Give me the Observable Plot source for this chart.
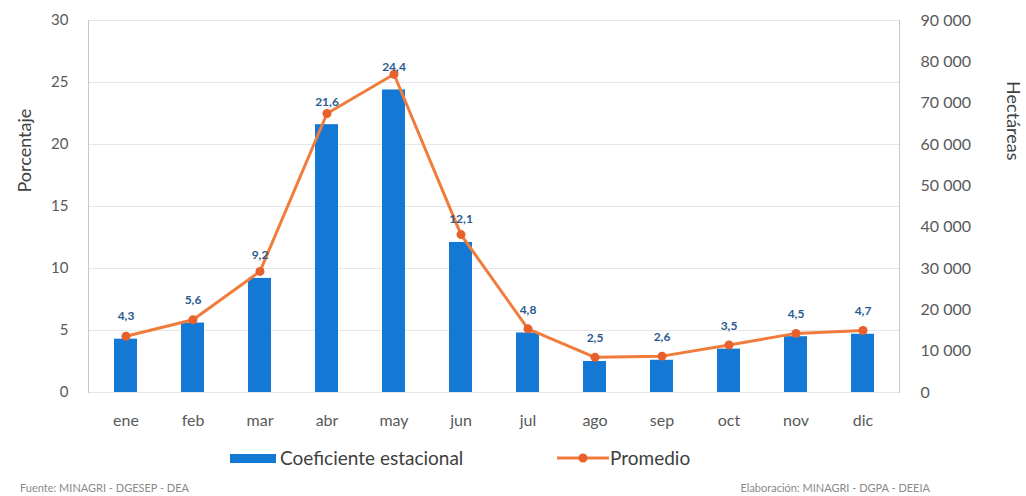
<!DOCTYPE html>
<html><head><meta charset="utf-8">
<script src="https://cdn.jsdelivr.net/npm/d3@7"></script>
<script src="https://cdn.jsdelivr.net/npm/@observablehq/plot@0.6"></script>
<style>
body{margin:0;background:#fff;font-family:Lato,"Open Sans",sans-serif;}
#wrap{position:relative;width:1026px;height:496px;overflow:hidden;}
.lg{position:absolute;font-size:19px;color:#404040;line-height:20px;white-space:nowrap;}
.ft{position:absolute;font-size:11px;color:#8a8a8a;white-space:nowrap;line-height:14px;}
</style></head><body><div id="wrap"><div id="chart"></div>
<div class="lg" style="left:230px;top:448px;display:flex;align-items:center;"><span style="display:inline-block;width:46px;height:9px;background:#1479d4;margin-right:4px;"></span><span id="lg1"></span></div>
<div class="lg" style="left:557px;top:448px;display:flex;align-items:center;"><svg width="52" height="12" style="margin-right:1px"><line x1="0" y1="6" x2="52" y2="6" stroke="#f07c3c" stroke-width="3"/><circle cx="26" cy="6" r="4.5" fill="#e8602c"/></svg><span id="lg2"></span></div>
<div class="ft" id="ft1" style="left:20px;top:481px;"></div>
<div class="ft" id="ft2" style="right:96px;top:481px;"></div>
</div>
<script>
const meses = ["ene","feb","mar","abr","may","jun","jul","ago","sep","oct","nov","dic"];
const coeficiente = [4.3,5.6,9.2,21.6,24.4,12.1,4.8,2.5,2.6,3.5,4.5,4.7];
const promedio = [13600,17600,29300,67500,77000,38200,15400,8500,8800,11500,14300,15000];
const ticksPct = [0,5,10,15,20,25,30];
const ticksHa = [0,10000,20000,30000,40000,50000,60000,70000,80000,90000];
const serieBarras = "Coeficiente estacional";
const serieLinea = "Promedio";
const ejeIzq = "Porcentaje";
const ejeDer = "Hectáreas";
const fuente = "Fuente: MINAGRI - DGESEP - DEA";
const elaboracion = "Elaboración: MINAGRI - DGPA - DEEIA";

document.getElementById("lg1").textContent = serieBarras;
document.getElementById("lg2").textContent = serieLinea;
document.getElementById("ft1").textContent = fuente;
document.getElementById("ft2").textContent = elaboracion;

const data = meses.map((m,i)=>({mes:m, coef:coeficiente[i], ha:promedio[i]}));
const y2 = d3.scaleLinear().domain([0,90000]).range([0,30]);
const loc = d3.formatLocale({decimal:",", thousands:" ", grouping:[3], currency:["",""]});
const fmtHa = loc.format(",d");
const fmtPct = loc.format(".1f");

const chart = Plot.plot({
  width:1026, height:440,
  marginTop:20, marginBottom:48, marginLeft:88, marginRight:127,
  style:{fontFamily:"Lato, 'Open Sans', sans-serif", fontSize:"15px", color:"#595959", background:"#fff"},
  x:{domain:meses, paddingInner:0.66, paddingOuter:0.33, label:null},
  y:{domain:[0,30], label:null},
  marks:[
    Plot.gridY(ticksPct, {stroke:"#e6e6e6", strokeOpacity:1}),
    Plot.frame({anchor:"left", stroke:"#c8c8c8"}),
    Plot.frame({anchor:"right", stroke:"#c8c8c8"}),
    Plot.barY(data, {x:"mes", y:"coef", fill:"#1479d4"}),
    Plot.line(data, {x:"mes", y:d=>y2(d.ha), stroke:"#f07c3c", strokeWidth:3}),
    Plot.dot(data, {x:"mes", y:d=>y2(d.ha), fill:"#e8602c", r:4.5}),
    Plot.text(data, {x:"mes", y:"coef", text:d=>fmtPct(d.coef), dy:-23, fill:"#2b5b8f", fontWeight:"bold", fontSize:12}),
    Plot.axisY(ticksPct, {anchor:"left", tickSize:0, tickPadding:20, label:null, fontSize:15}),
    Plot.axisY(ticksHa, {anchor:"right", y:d=>y2(d), tickFormat:fmtHa, tickSize:0, tickPadding:21, label:null, fontSize:16}),
    Plot.axisX({tickSize:0, tickPadding:22, label:null, fontSize:16}),
    Plot.text([ejeIzq], {frameAnchor:"left", dx:-63, dy:-14, rotate:-90, fontSize:18, fill:"#404040"}),
    Plot.text([ejeDer], {frameAnchor:"right", dx:113, dy:-46, rotate:90, fontSize:18, fill:"#404040"})
  ]
});
document.getElementById("chart").appendChild(chart);
</script>
</body></html>
